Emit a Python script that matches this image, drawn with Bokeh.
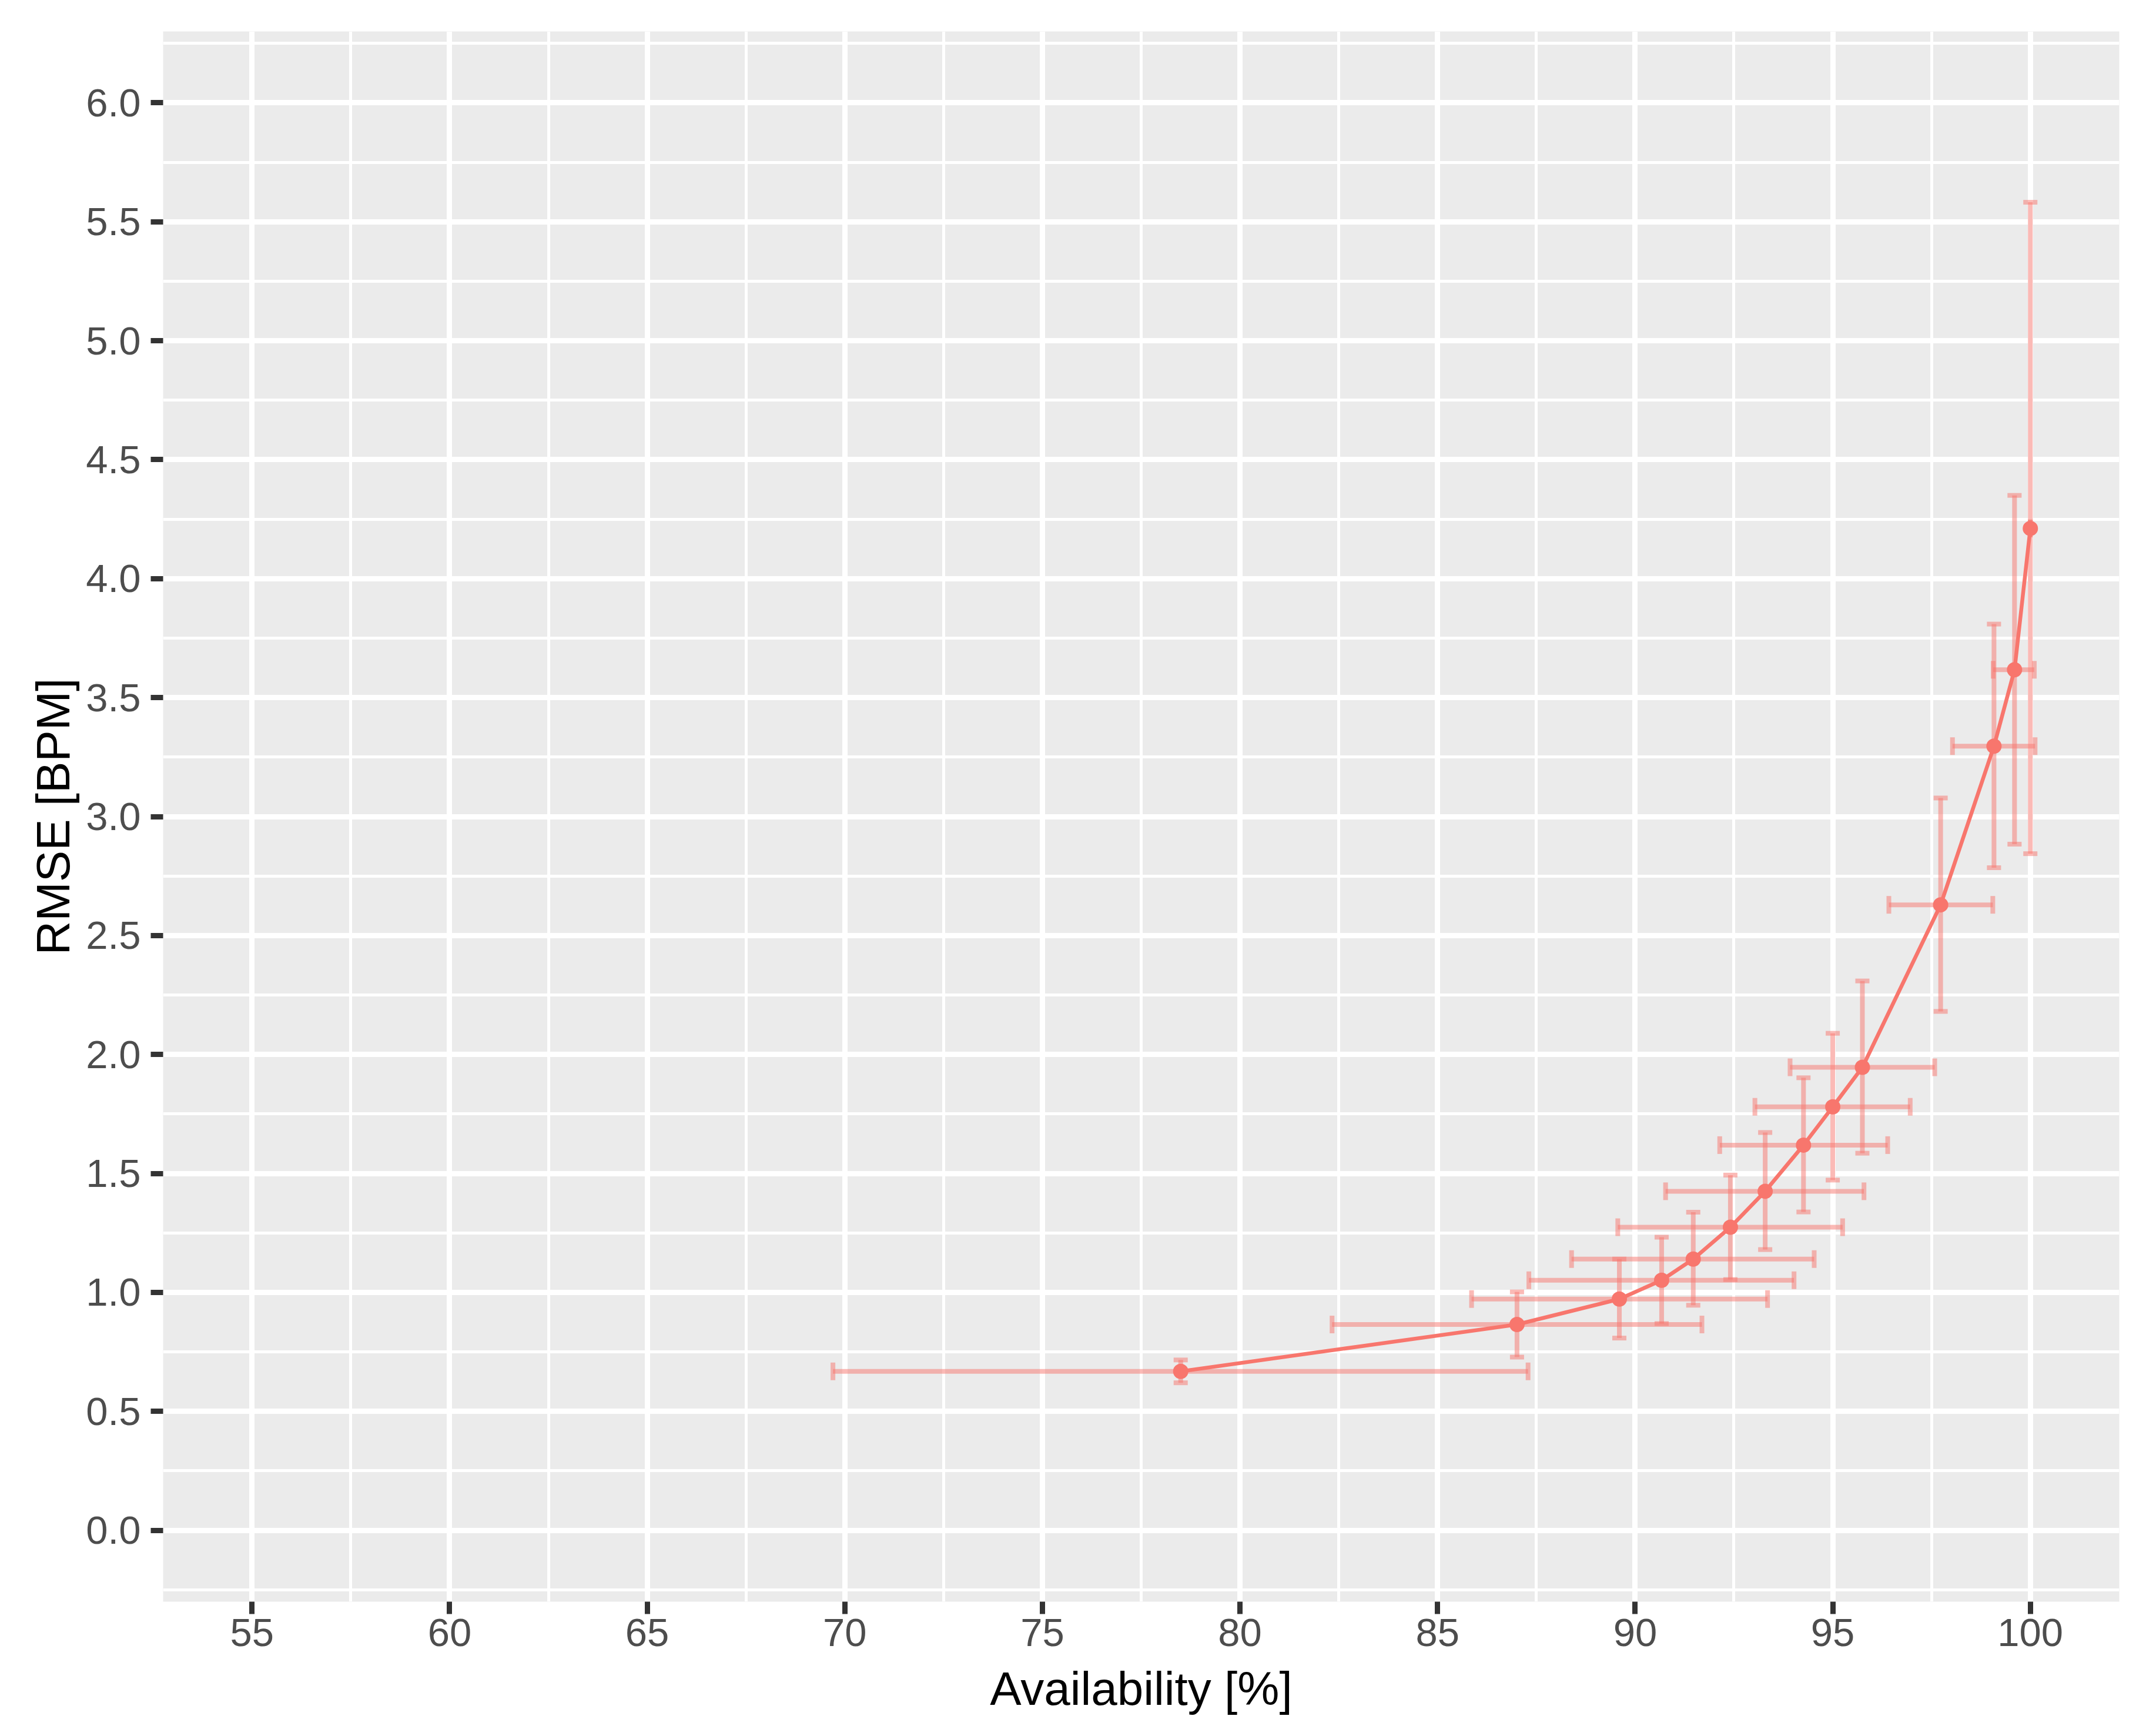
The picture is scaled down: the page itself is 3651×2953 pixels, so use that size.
from bokeh.plotting import figure
from bokeh.models import FixedTicker, Range1d
from bokeh.embed import file_html
from bokeh.resources import INLINE

# ---- data ----
availability = [78.50, 87.01, 89.60, 90.67, 91.47, 92.41, 93.29, 94.26, 95.00, 95.75, 97.73, 99.08, 99.60, 100.0]
rmse         = [0.668, 0.865, 0.972, 1.051, 1.140, 1.274, 1.425, 1.619, 1.780, 1.946, 2.629, 3.296, 3.617, 4.211]
rmse_lo      = [0.620, 0.728, 0.808, 0.869, 0.946, 1.054, 1.180, 1.338, 1.472, 1.585, 2.181, 2.785, 2.884, 2.844]
rmse_hi      = [0.716, 1.002, 1.140, 1.232, 1.337, 1.493, 1.672, 1.902, 2.089, 2.309, 3.078, 3.809, 4.350, 5.582]
avail_lo     = [69.70, 82.33, 85.86, 87.31, 88.39, 89.56, 90.77, 92.14, 93.03, 93.92, 96.42, 98.03, 99.06, 100.0]
avail_hi     = [87.29, 91.69, 93.35, 94.02, 94.53, 95.25, 95.79, 96.39, 96.96, 97.58, 99.05, 100.12, 100.10, 100.0]

x_ticks = [55, 60, 65, 70, 75, 80, 85, 90, 95, 100]
x_minor = [57.5, 62.5, 67.5, 72.5, 77.5, 82.5, 87.5, 92.5, 97.5]
y_ticks = [0.0, 0.5, 1.0, 1.5, 2.0, 2.5, 3.0, 3.5, 4.0, 4.5, 5.0, 5.5, 6.0]
y_tick_labels = ["0.0", "0.5", "1.0", "1.5", "2.0", "2.5", "3.0", "3.5", "4.0", "4.5", "5.0", "5.5", "6.0"]
y_minor = [-0.25, 0.25, 0.75, 1.25, 1.75, 2.25, 2.75, 3.25, 3.75, 4.25, 4.75, 5.25, 5.75, 6.25]

x_label = "Availability [%]"
y_label = "RMSE [BPM]"

RED = "#F8766D"
FONT = "Liberation Sans"

p = figure(
    frame_width=3328, frame_height=2671,
    min_border_left=277, min_border_right=38, min_border_top=53, min_border_bottom=221,
    x_range=Range1d(52.75, 102.25), y_range=Range1d(-0.3, 6.3),
    output_backend="svg", toolbar_location=None,
    background_fill_color="#EBEBEB", border_fill_color="white",
)
p.outline_line_color = None

p.xaxis.ticker = FixedTicker(ticks=x_ticks, minor_ticks=x_minor)
p.yaxis.ticker = FixedTicker(ticks=y_ticks, minor_ticks=y_minor)
p.yaxis.major_label_overrides = {t: s for t, s in zip(y_ticks, y_tick_labels)}

for ax in (p.xaxis[0], p.yaxis[0]):
    ax.axis_line_color = None
    ax.major_tick_line_color = "#333333"
    ax.major_tick_line_width = 9
    ax.major_tick_out = 21
    ax.major_tick_in = 0
    ax.minor_tick_out = 0
    ax.minor_tick_in = 0
    ax.major_label_text_font = FONT
    ax.major_label_text_font_size = "67px"
    ax.major_label_text_color = "#4D4D4D"
    ax.axis_label_text_font = FONT
    ax.axis_label_text_font_size = "80px"
    ax.axis_label_text_font_style = "normal"
    ax.axis_label_text_color = "black"

p.xaxis.axis_label = x_label
p.yaxis.axis_label = y_label
p.xaxis.major_label_standoff = 8
p.yaxis.major_label_standoff = 17
p.xaxis.axis_label_standoff = 25
p.yaxis.axis_label_standoff = 8

for g in (p.xgrid[0], p.ygrid[0]):
    g.grid_line_color = "white"
    g.grid_line_width = 9
    g.minor_grid_line_color = "white"
    g.minor_grid_line_width = 5

# error bars (alpha 0.5)
p.segment(x0=avail_lo, y0=rmse, x1=avail_hi, y1=rmse, line_color=RED, line_alpha=0.5, line_width=8)
p.segment(x0=availability, y0=rmse_lo, x1=availability, y1=rmse_hi, line_color=RED, line_alpha=0.5, line_width=8)
# caps
p.scatter(x=avail_lo, y=rmse, marker="dash", angle=1.5707963, size=30, line_color=RED, line_alpha=0.5, line_width=8)
p.scatter(x=avail_hi, y=rmse, marker="dash", angle=1.5707963, size=30, line_color=RED, line_alpha=0.5, line_width=8)
p.scatter(x=availability, y=rmse_lo, marker="dash", size=24, line_color=RED, line_alpha=0.5, line_width=8)
p.scatter(x=availability, y=rmse_hi, marker="dash", size=24, line_color=RED, line_alpha=0.5, line_width=8)

# line and points
p.line(availability, rmse, line_color=RED, line_width=6.5)
p.scatter(availability, rmse, size=26, fill_color=RED, line_color=None)

open("out.html", "w").write(file_html(p, INLINE))
